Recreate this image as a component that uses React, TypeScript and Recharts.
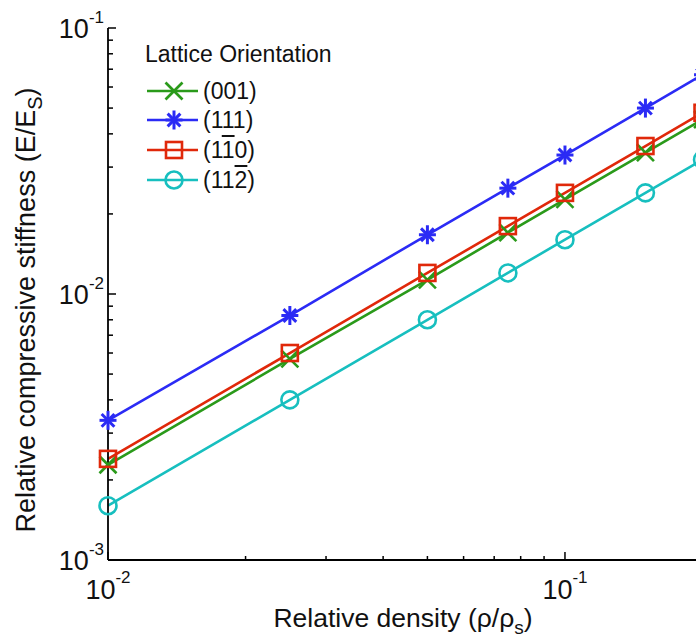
import { LineChart, Line, XAxis, YAxis, Legend } from 'recharts'

/* ---------- data ---------- */
const density = [0.01, 0.025, 0.05, 0.075, 0.1, 0.15, 0.2]
const stiff001 = [0.00228, 0.0057, 0.0113, 0.017, 0.0227, 0.034, 0.0453]
const stiff111 = [0.00335, 0.0083, 0.0167, 0.025, 0.0333, 0.05, 0.0667]
const stiff1b0 = [0.0024, 0.006, 0.012, 0.018, 0.024, 0.036, 0.048]
const stiff112b = [0.0016, 0.004, 0.008, 0.012, 0.016, 0.024, 0.032]

const xTicks = [0.01, 0.02, 0.03, 0.04, 0.05, 0.06, 0.07, 0.08, 0.09, 0.1, 0.2, 0.3]
const yTicks = [
  0.001, 0.002, 0.003, 0.004, 0.005, 0.006, 0.007, 0.008, 0.009,
  0.01, 0.02, 0.03, 0.04, 0.05, 0.06, 0.07, 0.08, 0.09, 0.1,
]

// '~' marks a digit that carries an overbar (Miller index notation)
const series = [
  { key: 'o001', label: '(001)', values: stiff001, color: '#2a9a1a', shape: 'x' },
  { key: 'o111', label: '(111)', values: stiff111, color: '#2b2bf5', shape: 'star' },
  { key: 'o110', label: '(1~10)', values: stiff1b0, color: '#e0280a', shape: 'square' },
  { key: 'o112', label: '(11~2)', values: stiff112b, color: '#17bfbf', shape: 'circle' },
]

const data = density.map((x, i) => {
  const row: Record<string, number> = { x }
  series.forEach((s) => { row[s.key] = s.values[i] })
  return row
})

const FONT = '"Liberation Sans", Arial, Helvetica, sans-serif'
const isDecade = (v: number) => Math.abs(Math.log10(v) - Math.round(Math.log10(v))) < 1e-9

/* ---------- markers ---------- */
function Marker({ cx, cy, shape, color }: { cx: number; cy: number; shape: string; color: string }) {
  const r = 8.5
  const sw = 2.6
  if (shape === 'x') {
    return (
      <g stroke={color} strokeWidth={sw}>
        <line x1={cx - r} y1={cy - r} x2={cx + r} y2={cy + r} />
        <line x1={cx - r} y1={cy + r} x2={cx + r} y2={cy - r} />
      </g>
    )
  }
  if (shape === 'star') {
    const d = r * 0.75
    return (
      <g stroke={color} strokeWidth={sw + 0.4}>
        <line x1={cx - r} y1={cy} x2={cx + r} y2={cy} />
        <line x1={cx} y1={cy - r - 1} x2={cx} y2={cy + r + 1} />
        <line x1={cx - d} y1={cy - d} x2={cx + d} y2={cy + d} />
        <line x1={cx - d} y1={cy + d} x2={cx + d} y2={cy - d} />
      </g>
    )
  }
  if (shape === 'square') {
    const h = r - 0.5
    return <rect x={cx - h} y={cy - h} width={2 * h} height={2 * h} fill="none" stroke={color} strokeWidth={sw} />
  }
  return <circle cx={cx} cy={cy} r={r} fill="none" stroke={color} strokeWidth={sw} />
}

/* ---------- inward log ticks ---------- */
function BottomTick({ x, y, payload }: any) {
  const v = payload.value
  const major = isDecade(v)
  return (
    <g>
      <line x1={x} y1={y} x2={x} y2={y - (major ? 8 : 4)} stroke="#000" strokeWidth={1.5} />
      {major && (
        <text x={x} y={y + 39} textAnchor="middle" fontFamily={FONT} fontSize={27} fill="#111">
          10<tspan dy={-16} fontSize={17}>{Math.round(Math.log10(v))}</tspan>
        </text>
      )}
    </g>
  )
}

function TopTick({ x, y, payload }: any) {
  const major = isDecade(payload.value)
  return <line x1={x} y1={y} x2={x} y2={y + (major ? 8 : 4)} stroke="#000" strokeWidth={1.5} />
}

function LeftTick({ x, y, payload }: any) {
  const v = payload.value
  const major = isDecade(v)
  return (
    <g>
      <line x1={x} y1={y} x2={x + (major ? 8 : 5)} y2={y} stroke="#000" strokeWidth={1.5} />
      {major && (
        <text x={x - 4} y={y + 10} textAnchor="end" fontFamily={FONT} fontSize={27} fill="#111">
          10<tspan dy={-15} fontSize={17}>{Math.round(Math.log10(v))}</tspan>
        </text>
      )}
    </g>
  )
}

/* ---------- legend ---------- */
function MillerLabel({ text }: { text: string }) {
  const parts: JSX.Element[] = []
  for (let i = 0; i < text.length; i++) {
    if (text[i] === '~') {
      parts.push(<span key={i} style={{ textDecoration: 'overline' }}>{text[i + 1]}</span>)
      i++
    } else {
      parts.push(<span key={i}>{text[i]}</span>)
    }
  }
  return <span>{parts}</span>
}

function OrientationLegend() {
  return (
    <div style={{ fontFamily: FONT, color: '#111', width: 260 }}>
      <div style={{ fontSize: 23, lineHeight: '26px', height: 35 }}>Lattice Orientation</div>
      {series.map((s) => (
        <div key={s.key} style={{ display: 'flex', alignItems: 'center', height: 29.6 }}>
          <svg width={54} height={24} style={{ display: 'block' }}>
            <line x1={2} y1={12} x2={53} y2={12} stroke={s.color} strokeWidth={2.6} />
            <Marker cx={29} cy={12} shape={s.shape} color={s.color} />
          </svg>
          <span style={{ fontSize: 23, lineHeight: '26px', marginLeft: 4 }}>
            <MillerLabel text={s.label} />
          </span>
        </div>
      ))}
    </div>
  )
}

export default function App() {
  return (
    <div style={{ position: 'fixed', left: 0, top: 0, width: 696, height: 644, overflow: 'hidden', background: '#fff' }}>
      <LineChart width={800} height={644} data={data} margin={{ top: 28, right: 17, bottom: 0, left: 0 }}>
        <XAxis
          dataKey="x" type="number" scale="log" domain={[0.01, 0.3]} ticks={xTicks} interval={0}
          height={84} tickSize={0} tickMargin={0} tickLine={false} tick={<BottomTick />}
          axisLine={{ stroke: '#000', strokeWidth: 1.8 }}
          label={{
            content: () => (
              <text x={403} y={627} textAnchor="middle" fontFamily={FONT} fontSize={26.5} fill="#111">
                Relative density (ρ/ρ<tspan dy={7} fontSize={19}>s</tspan><tspan dy={-7}>)</tspan>
              </text>
            ),
          }}
        />
        <XAxis
          xAxisId="top" orientation="top" dataKey="x" type="number" scale="log" domain={[0.01, 0.3]}
          ticks={xTicks} interval={0} height={0} tickSize={0} tickMargin={0} tickLine={false} tick={<TopTick />}
          axisLine={{ stroke: '#000', strokeWidth: 1.8 }}
        />
        <YAxis
          type="number" scale="log" domain={[0.001, 0.1]} ticks={yTicks} interval={0}
          width={108} tickSize={0} tickMargin={0} tickLine={false} tick={<LeftTick />}
          axisLine={{ stroke: '#000', strokeWidth: 1.8 }}
          label={{
            content: () => (
              <text x={35} y={310} transform="rotate(-90 35 310)" textAnchor="middle" fontFamily={FONT} fontSize={27} fill="#111">
                Relative compressive stiffness (E/E<tspan dy={7} fontSize={20}>S</tspan><tspan dy={-7}>)</tspan>
              </text>
            ),
          }}
        />
        <Legend
          layout="vertical" align="center" verticalAlign="middle"
          wrapperStyle={{ left: 145, top: 41, width: 260 }}
          content={() => <OrientationLegend />}
        />
        {series.map((s) => (
          <Line
            key={s.key} dataKey={s.key} stroke={s.color} strokeWidth={2.6} isAnimationActive={false}
            dot={(p: any) => <Marker key={`${s.key}-${p.index}`} cx={p.cx} cy={p.cy} shape={s.shape} color={s.color} />}
            activeDot={false}
          />
        ))}
      </LineChart>
    </div>
  )
}
